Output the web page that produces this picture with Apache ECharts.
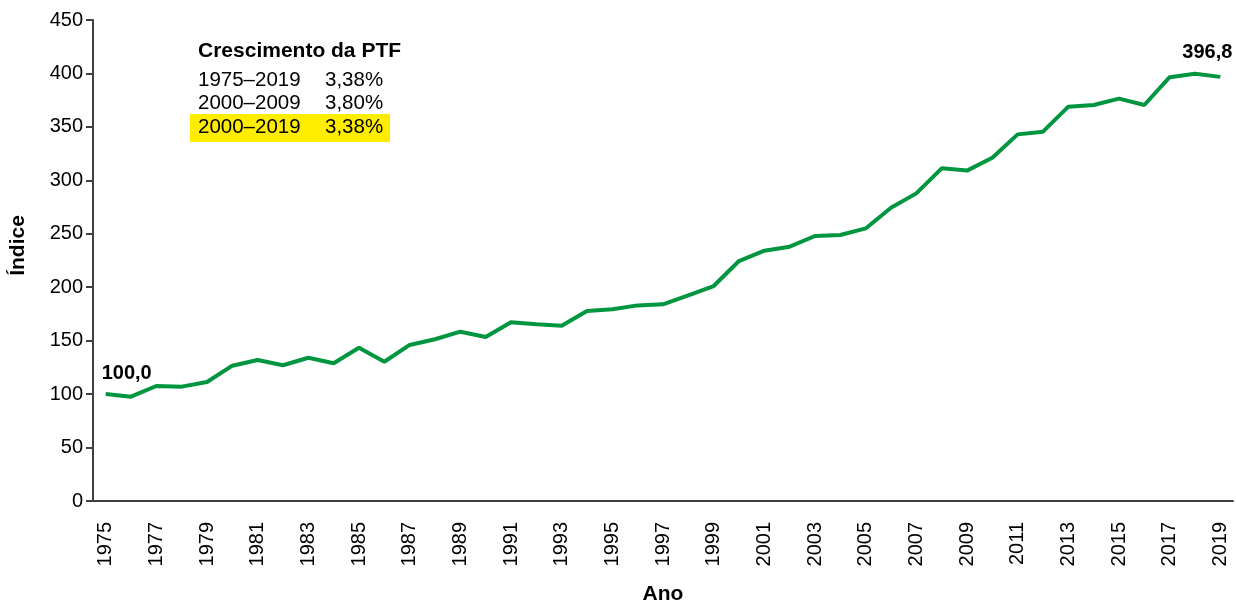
<!DOCTYPE html>
<html>
<head>
<meta charset="utf-8">
<script src="https://cdn.jsdelivr.net/npm/echarts@6/dist/echarts.min.js"></script>
<style>
  html, body { margin: 0; padding: 0; background: #fff; }
  #chart { width: 1236px; height: 605px; }
</style>
</head>
<body>
<div id="chart"></div>
<script>
// anos do eixo x
const years = [];
for (let y = 1975; y <= 2019; y++) years.push(String(y));

// índice da PTF (1975 = 100)
const ptfIndex = [
  100.0, 97.6, 107.6, 107.0, 111.3, 126.6, 131.9, 127.0, 134.0, 128.8,
  143.4, 130.3, 146.0, 151.3, 158.4, 153.4, 167.2, 165.3, 164.0, 177.8,
  179.3, 183.0, 184.0, 192.4, 201.1, 224.5, 234.2, 237.9, 247.9, 248.9,
  255.0, 274.4, 287.8, 311.2, 309.1, 321.2, 343.0, 345.5, 368.9, 370.5,
  376.4, 370.5, 396.5, 399.8, 396.8
];

// quadro de crescimento
const growthTitle = "Crescimento da PTF";
const growthPeriods = ["1975–2019", "2000–2009", "2000–2019"];
const growthRates = ["3,38%", "3,80%", "3,38%"];

const yTicks = [0, 50, 100, 150, 200, 250, 300, 350, 400, 450];

const FONT = "Liberation Sans";
const GREEN = "#00963f";

const fmt = v => v.toFixed(1).replace(".", ",");

const last = ptfIndex.length - 1;

// elementos gráficos do quadro
const graphics = [
  {
    type: "rect",
    shape: { x: 190, y: 114, width: 200, height: 28 },
    style: { fill: "#ffed00" },
    silent: true
  },
  {
    type: "text",
    x: 198, y: 51,
    style: { text: growthTitle, font: "bold 21px '" + FONT + "'", fill: "#000", verticalAlign: "middle" }
  }
];
growthPeriods.forEach((p, i) => {
  graphics.push({
    type: "text",
    x: 198, y: 80 + i * 23.5,
    style: { text: p, font: "20.5px '" + FONT + "'", fill: "#000", verticalAlign: "middle" }
  });
  graphics.push({
    type: "text",
    x: 325, y: 80 + i * 23.5,
    style: { text: growthRates[i], font: "20.5px '" + FONT + "'", fill: "#000", verticalAlign: "middle" }
  });
});

const pointLabel = {
  show: true,
  formatter: p => fmt(p.value),
  fontSize: 20,
  fontWeight: "bold",
  color: "#000",
  fontFamily: FONT
};

const chart = echarts.init(document.getElementById("chart"));
chart.setOption({
  animation: false,
  textStyle: { fontFamily: FONT },
  grid: { left: 93, right: 3, top: 20, bottom: 104, containLabel: false, outerBoundsMode: "none" },
  xAxis: {
    type: "category",
    data: years,
    boundaryGap: true,
    name: "Ano",
    nameLocation: "middle",
    nameGap: 83,
    nameTextStyle: { fontSize: 21, fontWeight: "bold", color: "#000", fontFamily: FONT },
    axisLine: { show: true, lineStyle: { color: "#404040", width: 2 } },
    axisTick: { show: false },
    axisLabel: {
      interval: 1,
      rotate: 90,
      margin: 21,
      fontSize: 20,
      color: "#000",
      fontFamily: FONT,
      padding: [10, 0, 0, 0]
    },
    splitLine: { show: false }
  },
  yAxis: {
    type: "value",
    min: yTicks[0],
    max: yTicks[yTicks.length - 1],
    interval: 50,
    name: "Índice",
    nameLocation: "middle",
    nameGap: 64,
    nameTextStyle: {
      fontSize: 21, fontWeight: "bold", color: "#000", fontFamily: FONT,
      padding: [0, 0, 0, 30]
    },
    axisLine: { show: true, lineStyle: { color: "#404040", width: 2 } },
    axisTick: { show: true, length: 7, lineStyle: { color: "#404040", width: 2 } },
    axisLabel: { fontSize: 20, color: "#000", margin: 10, fontFamily: FONT },
    splitLine: { show: false }
  },
  series: [
    {
      type: "line",
      data: ptfIndex,
      symbol: "none",
      lineStyle: { color: GREEN, width: 4 },
      itemStyle: { color: GREEN },
      markPoint: {
        symbol: "circle",
        symbolSize: 0,
        silent: true,
        data: [
          {
            coord: [years[0], ptfIndex[0]], value: ptfIndex[0],
            label: Object.assign({}, pointLabel, { position: "top", offset: [21, -6] })
          },
          {
            coord: [years[last], ptfIndex[last]], value: ptfIndex[last],
            label: Object.assign({}, pointLabel, { position: "top", offset: [-13, -9] })
          }
        ]
      }
    }
  ],
  graphic: graphics
});
</script>
</body>
</html>
